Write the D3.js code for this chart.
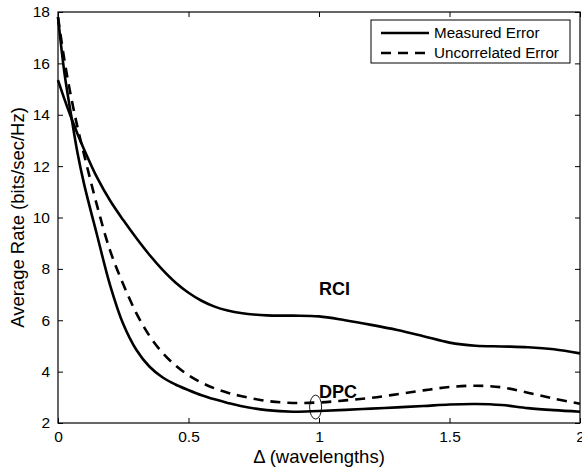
<!DOCTYPE html>
<html lang="en">
<head>
    <meta charset="UTF-8">
    <title>Average Rate vs Delta</title>
    <script src="https://d3js.org/d3.v7.min.js"></script>
    <style>
        body { margin: 0; background: #fff; }
        text { font-family: "Liberation Sans", Arial, Helvetica, sans-serif; fill: #000; }
    </style>
</head>
<body>
    <div id="my_dataviz"></div>

    <script>
        // x positions (wavelengths) shared by all series
        var deltas = [0, 0.025, 0.05, 0.075, 0.1, 0.15, 0.2, 0.25, 0.3, 0.35, 0.4, 0.45, 0.5, 0.55,
                      0.6, 0.65, 0.7, 0.8, 0.9, 1.0, 1.1, 1.2, 1.3, 1.4, 1.5, 1.6, 1.7, 1.8, 1.9, 2.0];

        // RCI, measured error
        var rciMeasured = [15.35, 14.6, 13.9, 13.25, 12.65, 11.55, 10.65, 9.9, 9.2, 8.55, 7.97, 7.47, 7.07, 6.76,
                           6.53, 6.38, 6.28, 6.19, 6.18, 6.15, 6.0, 5.82, 5.62, 5.38, 5.13, 5.01, 4.98, 4.95, 4.87, 4.71];
        // DPC, measured error
        var dpcMeasured = [17.8, 15.6, 14.0, 12.5, 11.3, 9.3, 7.35, 5.85, 4.85, 4.2, 3.78, 3.5, 3.28, 3.08,
                           2.92, 2.78, 2.66, 2.5, 2.44, 2.47, 2.51, 2.56, 2.61, 2.66, 2.72, 2.74, 2.7, 2.58, 2.5, 2.44];
        // DPC, uncorrelated error
        var dpcUncorrelated = [17.8, 16.1, 14.7, 13.5, 12.45, 10.45, 8.7, 7.4, 6.28, 5.4, 4.74, 4.24, 3.86, 3.57,
                               3.35, 3.18, 3.05, 2.86, 2.78, 2.8, 2.88, 2.98, 3.12, 3.27, 3.4, 3.45, 3.39, 3.18, 2.95, 2.75];

        var xTicks = [0, 0.5, 1, 1.5, 2];
        var yTicks = [2, 4, 6, 8, 10, 12, 14, 16, 18];
        var legendLabels = ["Measured Error", "Uncorrelated Error"];

        var W = 582, H = 468;
        var margin = {top: 12, right: 2, bottom: 45, left: 58};
        var width = W - margin.left - margin.right;
        var height = H - margin.top - margin.bottom;

        var svg = d3.select("#my_dataviz")
            .append("svg")
            .attr("width", W)
            .attr("height", H)
            .append("g")
            .attr("transform", "translate(" + margin.left + "," + margin.top + ")");

        var x = d3.scaleLinear().domain([0, 2]).range([0, width]);
        var y = d3.scaleLinear().domain([2, 18]).range([height, 0]);

        // axes, matlab style: ticks inward on all four sides
        function styleAxis(g) {
            g.select(".domain").remove();
            g.selectAll(".tick line").attr("stroke", "#000");
            g.selectAll(".tick text").style("font-size", "15.5px")
                .style("font-family", "'Liberation Sans', Arial, sans-serif");
        }
        svg.append("g")
            .attr("transform", "translate(0," + height + ")")
            .call(d3.axisBottom(x).tickValues(xTicks).tickFormat(d3.format("")).tickSizeInner(-5).tickPadding(8))
            .call(styleAxis);
        svg.append("g")
            .call(d3.axisTop(x).tickValues(xTicks).tickSizeInner(-5).tickFormat(""))
            .call(styleAxis);
        svg.append("g")
            .call(d3.axisLeft(y).tickValues(yTicks).tickSizeInner(-5).tickPadding(8))
            .call(styleAxis);
        svg.append("g")
            .attr("transform", "translate(" + width + ",0)")
            .call(d3.axisRight(y).tickValues(yTicks).tickSizeInner(-5).tickFormat(""))
            .call(styleAxis);

        svg.append("rect")
            .attr("width", width)
            .attr("height", height)
            .attr("fill", "none")
            .attr("stroke", "#000")
            .attr("stroke-width", 1.2);

        // axis labels
        svg.append("text")
            .attr("x", width / 2)
            .attr("y", height + 40)
            .attr("text-anchor", "middle")
            .style("font-size", "18.5px")
            .text("\u0394 (wavelengths)");
        svg.append("text")
            .attr("transform", "rotate(-90)")
            .attr("x", -height / 2)
            .attr("y", -34)
            .attr("text-anchor", "middle")
            .style("font-size", "18.5px")
            .text("Average Rate (bits/sec/Hz)");

        // curves
        var line = d3.line()
            .x(function(d) { return x(d[0]); })
            .y(function(d) { return y(d[1]); })
            .curve(d3.curveCatmullRom.alpha(0.5));

        var series = [
            {values: rciMeasured, dash: null},
            {values: dpcMeasured, dash: null},
            {values: dpcUncorrelated, dash: "10,7"}
        ];
        svg.append("g")
            .selectAll("path")
            .data(series)
            .enter()
            .append("path")
            .attr("d", function(s) { return line(d3.zip(deltas, s.values)); })
            .attr("fill", "none")
            .attr("stroke", "#000")
            .attr("stroke-width", 2.6)
            .attr("stroke-linejoin", "round")
            .attr("stroke-dasharray", function(s) { return s.dash; });

        // annotations
        svg.append("text")
            .attr("x", x(1.0))
            .attr("y", y(6.98))
            .style("font-size", "18px")
            .style("font-weight", "bold")
            .text("RCI");
        svg.append("text")
            .attr("x", x(1.0))
            .attr("y", y(2.97))
            .style("font-size", "18px")
            .style("font-weight", "bold")
            .text("DPC");
        svg.append("ellipse")
            .attr("cx", x(0.987))
            .attr("cy", y(2.62))
            .attr("rx", 6)
            .attr("ry", 12)
            .attr("fill", "none")
            .attr("stroke", "#000")
            .attr("stroke-width", 0.9);

        // legend
        var lg = svg.append("g").attr("transform", "translate(" + (371 - margin.left) + "," + (20 - margin.top) + ")");
        lg.append("rect")
            .attr("width", 199)
            .attr("height", 43)
            .attr("fill", "#fff")
            .attr("stroke", "#000")
            .attr("stroke-width", 1);
        legendLabels.forEach(function(label, i) {
            var ly = 13 + i * 20;
            lg.append("line")
                .attr("x1", 10).attr("x2", 58)
                .attr("y1", ly).attr("y2", ly)
                .attr("stroke", "#000")
                .attr("stroke-width", 2.6)
                .attr("stroke-dasharray", i === 1 ? "10,7" : null);
            lg.append("text")
                .attr("x", 63)
                .attr("y", ly)
                .attr("dy", "0.36em")
                .style("font-size", "15.2px")
                .text(label);
        });
    </script>
</body>
</html>
